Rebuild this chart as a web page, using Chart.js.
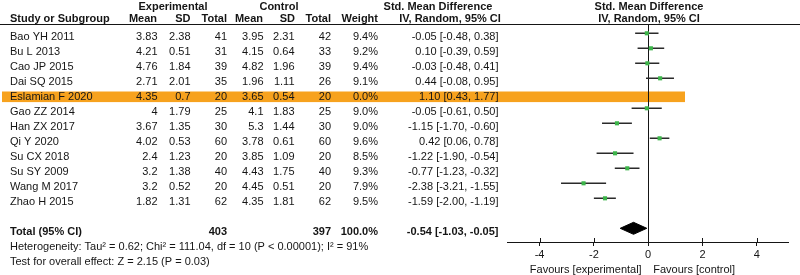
<!DOCTYPE html>
<html>
<head>
<meta charset="utf-8">
<script src="https://cdn.jsdelivr.net/npm/chart.js@4/dist/chart.umd.min.js"></script>
<style>
  html, body { margin: 0; padding: 0; background: #fff; }
  #wrap { width: 800px; height: 275px; position: relative; }
</style>
</head>
<body>
<div id="wrap"><canvas id="forest"></canvas></div>
<script>
// dados
const studies = ["Bao YH 2011", "Bu L 2013", "Cao JP 2015", "Dai SQ 2015", "Eslamian F 2020", "Gao ZZ 2014",
  "Han ZX 2017", "Qi Y 2020", "Su CX 2018", "Su SY 2009", "Wang M 2017", "Zhao H 2015"];
const expMean = [3.83, 4.21, 4.76, 2.71, 4.35, 4, 3.67, 4.02, 2.4, 3.2, 3.2, 1.82];
const expSD = [2.38, 0.51, 1.84, 2.01, 0.7, 1.79, 1.35, 0.53, 1.23, 1.38, 0.52, 1.31];
const expN = [41, 31, 39, 35, 20, 25, 30, 60, 20, 40, 20, 62];
const ctlMean = [3.95, 4.15, 4.82, 1.96, 3.65, 4.1, 5.3, 3.78, 3.85, 4.43, 4.45, 4.35];
const ctlSD = [2.31, 0.64, 1.96, 1.11, 0.54, 1.83, 1.44, 0.61, 1.09, 1.75, 0.51, 1.81];
const ctlN = [42, 33, 39, 26, 20, 25, 30, 60, 20, 40, 20, 62];
const weight = [9.4, 9.2, 9.4, 9.1, 0.0, 9.0, 9.0, 9.6, 8.5, 9.3, 7.9, 9.5];
const smd = [-0.05, 0.10, -0.03, 0.44, 1.10, -0.05, -1.15, 0.42, -1.22, -0.77, -2.38, -1.59];
const ciLow = [-0.48, -0.39, -0.48, -0.08, 0.43, -0.61, -1.70, 0.06, -1.90, -1.23, -3.21, -2.00];
const ciHigh = [0.38, 0.59, 0.41, 0.95, 1.77, 0.50, -0.60, 0.78, -0.54, -0.32, -1.55, -1.19];
const highlighted = [4]; // linha destacada (peso 0%)

const totalExpN = 403;
const totalCtlN = 397;
const totalWeight = 100.0;
const totalSmd = -0.54;
const totalLow = -1.03;
const totalHigh = -0.05;
const totalRow = 13;

const heterogeneity = "Heterogeneity: Tau² = 0.62; Chi² = 111.04, df = 10 (P < 0.00001); I² = 91%";
const overallTest = "Test for overall effect: Z = 2.15 (P = 0.03)";
const xTicks = [-4, -2, 0, 2, 4];
const favoursLeft = "Favours [experimental]";
const favoursRight = "Favours [control]";

const FONT = '"Liberation Sans", Arial, sans-serif';
const INK = "#151515";

const fmtCI = (m, l, h) => `${m.toFixed(2)} [${l.toFixed(2)}, ${h.toFixed(2)}]`;

// pontos e linhas dos IC
const markerPts = [];
const ciPts = [];
studies.forEach((s, i) => {
  if (weight[i] <= 0) return;
  markerPts.push({ x: smd[i], y: i });
  ciPts.push({ x: ciLow[i], y: i }, { x: ciHigh[i], y: i }, { x: null, y: null });
});
const dh = 0.4;
const diamondPts = [
  { x: totalLow, y: totalRow },
  { x: totalSmd, y: totalRow - dh },
  { x: totalHigh, y: totalRow },
  { x: totalSmd, y: totalRow + dh },
  { x: totalLow, y: totalRow }
];

const forestTable = {
  id: "forestTable",
  beforeDraw(chart) {
    const { ctx, scales } = chart;
    ctx.save();
    ctx.fillStyle = "#F7A21E";
    highlighted.forEach(i => {
      const y = scales.y.getPixelForValue(i);
      ctx.fillRect(2, y - 1.8, 683, 10.6);
    });
    ctx.restore();
  },
  beforeDatasetsDraw(chart) {
    const { ctx, scales, chartArea } = chart;
    const x0 = Math.round(scales.x.getPixelForValue(0)) + 0.5;
    ctx.save();
    ctx.strokeStyle = INK;
    ctx.lineWidth = 1;
    ctx.beginPath();
    ctx.moveTo(x0, chartArea.top);
    ctx.lineTo(x0, chartArea.bottom);
    // linha do cabeçalho
    ctx.moveTo(0, 24.5);
    ctx.lineTo(800, 24.5);
    ctx.stroke();
    // ticks acima do eixo
    ctx.beginPath();
    xTicks.forEach(t => {
      const x = Math.round(scales.x.getPixelForValue(t)) + 0.5;
      ctx.moveTo(x, chartArea.bottom - 4);
      ctx.lineTo(x, chartArea.bottom);
    });
    ctx.stroke();
    ctx.restore();
  },
  afterDraw(chart) {
    const { ctx, scales } = chart;
    const rowY = i => scales.y.getPixelForValue(i) + 6.7;
    const txt = (s, x, y, align, bold) => {
      ctx.font = `${bold ? "bold " : ""}11px ${FONT}`;
      ctx.textAlign = align;
      ctx.fillText(s, x, y);
    };
    ctx.save();
    ctx.fillStyle = INK;
    ctx.textBaseline = "alphabetic";

    // cabeçalhos
    txt("Experimental", 173, 10, "center", true);
    txt("Control", 279, 10, "center", true);
    txt("Std. Mean Difference", 438, 10, "center", true);
    txt("Std. Mean Difference", 649, 10, "center", true);
    txt("Study or Subgroup", 10, 22, "left", true);
    txt("Mean", 157, 22, "right", true);
    txt("SD", 190.5, 22, "right", true);
    txt("Total", 227, 22, "right", true);
    txt("Mean", 263, 22, "right", true);
    txt("SD", 295, 22, "right", true);
    txt("Total", 331, 22, "right", true);
    txt("Weight", 378, 22, "right", true);
    txt("IV, Random, 95% CI", 450, 22, "center", true);
    txt("IV, Random, 95% CI", 649, 22, "center", true);

    studies.forEach((s, i) => {
      const y = rowY(i);
      txt(s, 10, y, "left");
      txt(String(expMean[i]), 157.5, y, "right");
      txt(String(expSD[i]), 190.5, y, "right");
      txt(String(expN[i]), 227, y, "right");
      txt(String(ctlMean[i]), 263.5, y, "right");
      txt(String(ctlSD[i]), 294.5, y, "right");
      txt(String(ctlN[i]), 331, y, "right");
      txt(weight[i].toFixed(1) + "%", 378, y, "right");
      txt(fmtCI(smd[i], ciLow[i], ciHigh[i]), 498.5, y, "right");
    });

    const ty = rowY(totalRow);
    txt("Total (95% CI)", 10, ty, "left", true);
    txt(String(totalExpN), 227, ty, "right", true);
    txt(String(totalCtlN), 331, ty, "right", true);
    txt(totalWeight.toFixed(1) + "%", 378, ty, "right", true);
    txt(fmtCI(totalSmd, totalLow, totalHigh), 498.5, ty, "right", true);
    txt(heterogeneity, 10, ty + 14.5, "left");
    txt(overallTest, 10, ty + 29.5, "left");

    const x0 = scales.x.getPixelForValue(0);
    txt(favoursLeft, x0 - 6.5, 272.5, "right");
    txt(favoursRight, x0 + 5, 272.5, "left");
    ctx.restore();
  }
};

new Chart(document.getElementById("forest"), {
  type: "line",
  data: {
    datasets: [
      {
        type: "scatter",
        data: markerPts,
        pointStyle: "rect",
        pointRadius: 2.9,
        pointBackgroundColor: "#3DB54A",
        pointBorderWidth: 0,
        showLine: false
      },
      {
        data: ciPts,
        borderColor: "#2a2a2a",
        borderWidth: 1.6,
        pointRadius: 0,
        spanGaps: false,
        fill: false
      },
      {
        data: diamondPts,
        borderColor: "#000",
        borderWidth: 1,
        backgroundColor: "#000",
        pointRadius: 0,
        fill: "shape"
      }
    ]
  },
  options: {
    responsive: true,
    maintainAspectRatio: false,
    animation: false,
    events: [],
    layout: { padding: { top: 25, left: 507, right: 12, bottom: 0 } },
    plugins: { legend: { display: false }, tooltip: { enabled: false } },
    scales: {
      x: {
        type: "linear",
        min: -5.2,
        max: 5.15,
        afterBuildTicks: s => { s.ticks = xTicks.map(v => ({ value: v })); },
        afterFit: s => { s.height = 33; },
        grid: { drawOnChartArea: false, tickLength: 4, color: INK, lineWidth: 1 },
        border: { display: true, color: INK, width: 1 },
        ticks: {
          color: INK,
          padding: 2,
          font: { family: FONT, size: 11 },
          maxRotation: 0,
          callback: v => String(v)
        }
      },
      y: {
        type: "linear",
        display: false,
        reverse: true,
        min: -0.553,
        max: 13.913
      }
    }
  },
  plugins: [forestTable]
});
</script>
</body>
</html>
